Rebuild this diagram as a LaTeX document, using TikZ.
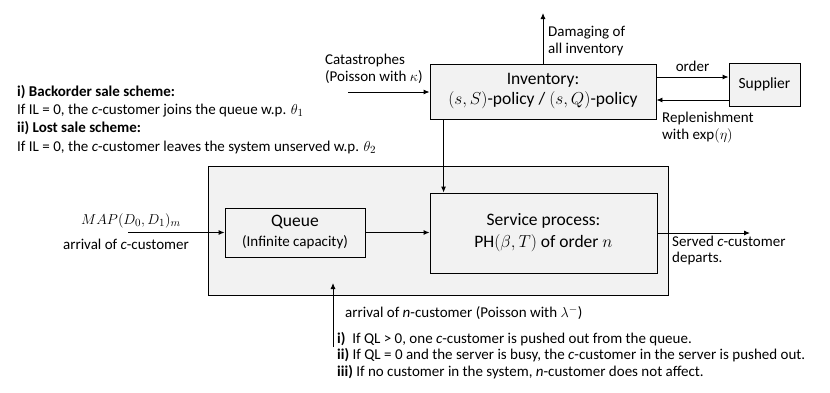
\documentclass[tikz,border=0pt]{standalone}
\usepackage{fontspec}
\setmainfont{Carlito}
\usetikzlibrary{arrows.meta}
\definecolor{boxgray}{RGB}{242,242,242}
\tikzset{
	box/.style={draw=black, fill=boxgray, line width=0.9pt, inner sep=0pt, align=center},
	arr/.style={line width=0.9pt, -{Latex[length=6pt,width=5pt]}},
	txt/.style={font=\fontsize{15}{17}\selectfont, inner sep=0pt},
	big/.style={font=\fontsize{17.5}{20}\selectfont},
}
\begin{document}
\begin{tikzpicture}[x=1pt,y=-1pt]
		\useasboundingbox (0,0) rectangle (830,392);
		% boxes
		\node[box, minimum width=460pt, minimum height=129pt] (sys) at (438,230.5) {};
		\node[box, big, minimum width=140pt, minimum height=49pt] (queue) at (295,232.5) {Queue\\{\fontsize{15}{17}\selectfont (Infinite capacity)}};
		\node[box, big, minimum width=227pt, minimum height=80pt, font=\fontsize{17.5}{22}\selectfont] (service) at (543.5,233) {Service process:\\PH$(\beta,T)$ of order $n$};
		\node[box, big, minimum width=226pt, minimum height=55pt] (inv) at (543,91.5) {Inventory:\\$(s,S)$-policy / $(s,Q)$-policy};
		\node[box, minimum width=71pt, minimum height=43pt, font=\fontsize{15.5}{18}\selectfont] (sup) at (764.5,84.5) {Supplier};
		% inventory side
		\node[txt, anchor=west, align=left] (cat) at (325,68.5) {Catastrophes\\(Poisson with $\kappa$)};
		\coordinate (catin) at (348,92);
		\draw[arr] (catin) -- (catin -| inv.west);
		\coordinate (dmg) at (543,13);
		\draw[arr] (dmg |- inv.north) -- (dmg);
		\node[txt, anchor=west, align=left] (dmgtxt) at (548,41) {Damaging of\\all inventory};
		\draw[arr] ([yshift=14.5pt]inv.east) -- ([yshift=14.5pt]inv.east -| sup.west) node[txt, midway, above=5pt] (ordtxt) {order};
		\draw[arr] ([yshift=-8.5pt]inv.east -| sup.west) -- ([yshift=-8.5pt]inv.east);
		\node[txt, anchor=north west, align=left, font=\fontsize{15}{16.5}\selectfont] (reptxt) at (662,112) {Replenishment\\with exp$(\eta)$};
		% sale schemes
		\node[txt, anchor=north west, align=left, font=\fontsize{15}{18.3}\selectfont] (scheme) at (17,85) {\textbf{i) Backorder sale scheme:}\\If IL = 0, the \textit{c}-customer joins the queue w.p. $\theta_1$\\\textbf{ii) Lost sale scheme:}\\If IL = 0, the \textit{c}-customer leaves the system unserved w.p. $\theta_2$};
		% c-customer flow
		\node[txt] (map) at (131,221) {$MAP(D_0,D_1)_m$};
		\node[txt] (arrc) at (126,244) {arrival of \textit{c}-customer};
		\coordinate (mapin) at (128,232.5);
		\draw[arr] (mapin) -- (queue.west);
		\draw[arr] (queue.east) -- (queue.east -| service.west);
		\draw[arr] ([xshift=14pt]inv.south west) -- ([xshift=14pt]inv.south west |- service.north);
		\coordinate (srvout) at (750,233);
		\draw[arr] (service.east) -- (srvout);
		\node[txt, anchor=west, align=left, font=\fontsize{15}{16}\selectfont] (srvtxt) at (672,250.5) {Served \textit{c}-customer\\departs.};
		% n-customer
		\coordinate (nin) at (333,347);
		\coordinate (ntip) at (333,283);
		\draw[arr] (nin) -- (ntip);
		\node[txt, anchor=west] (ntxt) at (345,313) {arrival of \textit{n}-customer (Poisson with $\lambda^-$)};
		\node[txt, anchor=north west, align=left, font=\fontsize{15}{16.5}\selectfont] (rules) at (337,332) {\textbf{i)}\ \ If QL > 0, one \textit{c}-customer is pushed out from the queue.\\\textbf{ii)} If QL = 0 and the server is busy, the \textit{c}-customer in the server is pushed out.\\\textbf{iii)} If no customer in the system, \textit{n}-customer does not affect.};
\end{tikzpicture}
\end{document}
